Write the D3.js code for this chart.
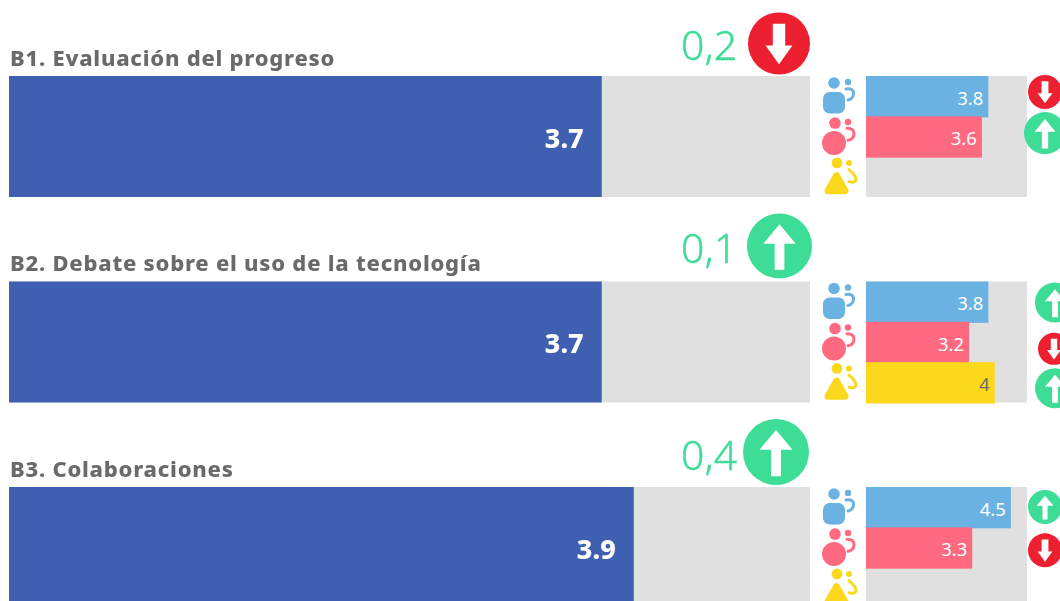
<!DOCTYPE html>
<html>
<head>
<meta charset="utf-8">
<script src="https://cdn.jsdelivr.net/npm/d3@7"></script>
<style>
html, body { margin: 0; padding: 0; background: #fff; overflow: hidden; }
svg { display: block; filter: blur(0.6px); }
</style>
</head>
<body>
<div id="chart"></div>
<script>
// data
var titles = ["B1. Evaluación del progreso", "B2. Debate sobre el uso de la tecnología", "B3. Colaboraciones"];
var overall = [3.7, 3.7, 3.9];
var deltas = ["0,2", "0,1", "0,4"];
var overallDir = ["down", "up", "up"];
var groups = ["male", "female", "other"];
var maleValues = [3.8, 3.8, 4.5];
var femaleValues = [3.6, 3.2, 3.3];
var otherValues = [null, 4, null];
var maleDir = ["down", "up", "up"];
var femaleDir = ["up", "down", "down"];
var otherDir = [null, "up", null];

// the badges are not quite regular in the original, so placement is kept apart from the data
var bigBadge = [
    { cx: 779, dy: -32.5, r: 31, textDy: -16 },
    { cx: 779.5, dy: -35.5, r: 32.5, textDy: -19 },
    { cx: 776, dy: -35, r: 33, textDy: -17 }
];
var smallBadge = [
    { male: [1045, 16, 17], female: [1045, 16.7, 21] },
    { male: [1055, 21, 20], female: [1054, 27, 16], other: [1055, 26, 20] },
    { male: [1045, 20, 17], female: [1045, 23, 17] }
];

var width = 1060, height = 601;
var colors = { male: "#6ab2e2", female: "#ff6a80", other: "#fbd81c" };
var green = "#3ddc97", red = "#ed2031", grey = "#e0e0e0", navy = "#3f5fb0", titleGrey = "#6a6a6a";
var font = "'Noto Sans', 'Open Sans', sans-serif";

// arrow outlines for a badge of radius 30
var arrowShapes = {
    up: [[-4.5, 22], [4.5, 22], [4.5, -2], [15, -2], [0, -20], [-15, -2], [-4.5, -2]],
    down: [[-6, -19], [6, -19], [6, 2], [13, 2], [0, 20], [-13, 2], [-6, 2]]
};

var svg = d3.select("#chart").append("svg")
    .attr("width", width)
    .attr("height", height);

var panelY = d3.scalePoint().domain(d3.range(titles.length)).range([76, 487]);
var panelH = 121;
var xMain = d3.scaleLinear().domain([0, 5]).range([9, 810]);
var xSmall = d3.scaleLinear().domain([0, 5]).range([866, 1027]);
var rowY = d3.scaleBand().domain(groups).range([0, panelH]);

function arrow(sel, cx, cy, r, dir) {
    var k = r / 30;
    var line = d3.line();
    sel.append("circle")
        .attr("cx", cx).attr("cy", cy).attr("r", r)
        .attr("fill", dir == "up" ? green : red);
    sel.append("path")
        .attr("d", line(arrowShapes[dir].map(function(p) { return [cx + p[0] * k, cy + p[1] * k]; })) + "Z")
        .attr("fill", "#fff");
}

// little person pair icons, x/y is the top left of the row
function personIcon(sel, group, x, y) {
    var c = colors[group];
    var g = sel.append("g")
        .attr("transform", "translate(" + x + "," + y + ")")
        .attr("fill", c);
    var hook;
    if (group == "male") {
        g.append("circle").attr("cx", 11).attr("cy", 7).attr("r", 5.8);
        g.append("circle").attr("cx", 25).attr("cy", 6).attr("r", 3.2);
        g.append("rect").attr("x", 0).attr("y", 16).attr("width", 22).attr("height", 21.5).attr("rx", 6.5);
        hook = "M23 13 Q31 12 30.5 18 Q30 23 25 24";
    } else if (group == "female") {
        g.append("circle").attr("cx", 12).attr("cy", 6.7).attr("r", 5.8);
        g.append("circle").attr("cx", 25).attr("cy", 5.7).attr("r", 3.2);
        g.append("circle").attr("cx", 11).attr("cy", 26.7).attr("r", 12);
        hook = "M24 12 Q31 12 31 17 Q31 23 25 24";
    } else {
        g.append("circle").attr("cx", 14).attr("cy", 6.3).attr("r", 5.4);
        g.append("circle").attr("cx", 26).attr("cy", 6.3).attr("r", 3);
        g.append("path")
            .attr("d", "M13.5 19 L22 34 L5 34 Z")
            .attr("stroke", c)
            .attr("stroke-width", 7)
            .attr("stroke-linejoin", "round");
        hook = "M26 13 Q33 19 33 23 Q32 27 26 25";
    }
    g.append("path")
        .attr("d", hook)
        .attr("fill", "none")
        .attr("stroke", c)
        .attr("stroke-width", 3)
        .attr("stroke-linecap", "round");
}

var groupValues = { male: maleValues, female: femaleValues, other: otherValues };
var groupDirs = { male: maleDir, female: femaleDir, other: otherDir };

titles.forEach(function(title, i) {
    var y0 = panelY(i);
    var g = svg.append("g");
    var b = bigBadge[i];

    g.append("text")
        .attr("x", 10).attr("y", y0 - 10.5)
        .attr("font-family", font)
        .attr("font-weight", 800)
        .attr("font-size", 22)
        .attr("letter-spacing", 0.76)
        .attr("fill", titleGrey)
        .text(title);

    g.append("rect")
        .attr("x", xMain(0)).attr("y", y0)
        .attr("width", xMain(5) - xMain(0)).attr("height", panelH)
        .attr("fill", grey);
    g.append("rect")
        .attr("x", xMain(0)).attr("y", y0)
        .attr("width", xMain(overall[i]) - xMain(0)).attr("height", panelH)
        .attr("fill", navy);
    g.append("text")
        .attr("x", xMain(overall[i]) - 18).attr("y", y0 + 71.5)
        .attr("text-anchor", "end")
        .attr("font-family", font)
        .attr("font-weight", 800)
        .attr("font-size", 27)
        .attr("fill", "#fff")
        .text(overall[i]);

    g.append("text")
        .attr("x", 681).attr("y", y0 + b.textDy)
        .attr("font-family", font)
        .attr("font-weight", 300)
        .attr("font-size", 41)
        .attr("fill", green)
        .attr("stroke", green)
        .attr("stroke-width", 0.4)
        .text(deltas[i]);
    arrow(g, b.cx, y0 + b.dy, b.r, overallDir[i]);

    g.append("rect")
        .attr("x", xSmall(0)).attr("y", y0)
        .attr("width", xSmall(5) - xSmall(0)).attr("height", panelH)
        .attr("fill", grey);

    groups.forEach(function(group) {
        var ry = y0 + rowY(group);
        var v = groupValues[group][i];
        personIcon(g, group, 823, ry);
        if (v == null) return;
        g.append("rect")
            .attr("x", xSmall(0)).attr("y", ry)
            .attr("width", xSmall(v) - xSmall(0)).attr("height", rowY.bandwidth() + 1)
            .attr("fill", colors[group]);
        g.append("text")
            .attr("x", xSmall(v) - 5).attr("y", ry + 28.7)
            .attr("text-anchor", "end")
            .attr("font-family", font)
            .attr("font-size", 18.5)
            .attr("fill", group == "other" ? titleGrey : "#fff")
            .text(v);
        var s = smallBadge[i][group];
        arrow(g, s[0], ry + s[1], s[2], groupDirs[group][i]);
    });
});
</script>
</body>
</html>
